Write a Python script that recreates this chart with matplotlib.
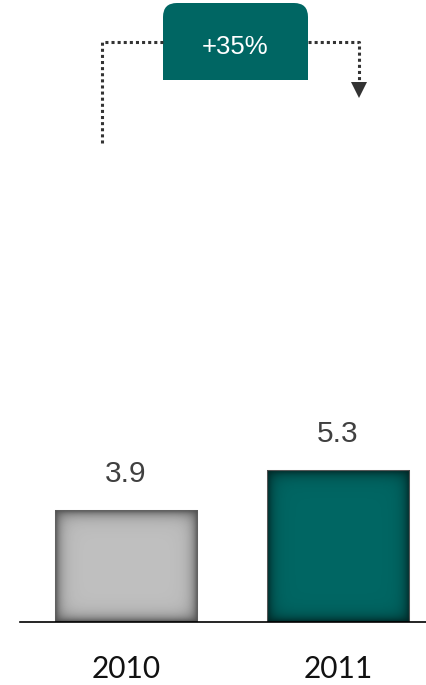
import numpy as np
import matplotlib.pyplot as plt
from matplotlib.patches import FancyBboxPatch, Rectangle, Polygon

years = ['2010', '2011']
values = [3.9, 5.3]
bar_colors = ['#bfbfbf', '#006663']
shadow_strength = [0.6, 0.65]
growth_label = '+35%'
teal = '#006663'

W, H = 427, 685
fig = plt.figure(figsize=(W / 100, H / 100), dpi=100)

# main axes: bottom edge sits on the baseline
ax = fig.add_axes([0, 63 / H, 1, 622 / H])
ax.axis('off')
xlim = (-0.594, 1.42)
ylim = (0, 21.75)
ax.set_xlim(*xlim)
ax.set_ylim(*ylim)

x = np.arange(len(years))
bars = ax.bar(x, values, width=0.67, color=bar_colors, edgecolor='#d8d8d8',
              linewidth=0.8, zorder=2)


def inner_shadow(patch, strength, size=5.5):
    x0, y0 = patch.get_x(), patch.get_y()
    x1, y1 = x0 + patch.get_width(), y0 + patch.get_height()
    (px0, py0), (px1, py1) = ax.transData.transform([(x0, y0), (x1, y1)])
    w, h = int(round(px1 - px0)), int(round(py1 - py0))
    xx = np.arange(w) + 0.5
    yy = np.arange(h) + 0.5
    ax_ = np.exp(-np.minimum(xx, w - xx) / size)
    ay_ = np.exp(-np.minimum(yy, h - yy) / size)
    a = 1 - (1 - ax_[None, :]) * (1 - ay_[:, None])
    img = np.zeros((h, w, 4))
    img[..., 3] = strength * a
    ax.imshow(img, extent=(x0, x1, y0, y1), aspect='auto',
              interpolation='bilinear', zorder=3)


for b, s in zip(bars, shadow_strength):
    inner_shadow(b, s)

for xi, v in zip(x, values):
    ax.annotate(f'{v:.1f}', (xi, v), xytext=(0, 26.5), textcoords='offset points',
                ha='center', va='center', fontsize=21.5, color='#404040',
                family='Liberation Sans')
    ax.annotate(years[xi], (xi, 0), xytext=(0, -34), textcoords='offset points',
                ha='center', va='center', fontsize=21.5, color='#111111',
                family='Lato', annotation_clip=False)

ax.axhline(0, xmin=20 / W, xmax=1, color='black', lw=1.2, zorder=4, clip_on=False)
ax.set_xlim(*xlim)
ax.set_ylim(*ylim)

# growth bracket drawn in pixel space
ov = fig.add_axes([0, 0, 1, 1])
ov.set_xlim(0, W)
ov.set_ylim(H, 0)
ov.axis('off')

dot = dict(color='#333333', lw=2.2, linestyle=(0, (1, 1)), solid_capstyle='butt')
ov.plot([102, 102, 163], [143, 42, 42], **dot)
ov.plot([308, 359, 359], [42, 42, 84], **dot)
ov.add_patch(Polygon([(351, 82), (367, 82), (359, 98)], closed=True,
                     color='#333333', lw=0))

ov.add_patch(FancyBboxPatch((163, 3), 145, 77, boxstyle='round,pad=0,rounding_size=14',
                            color=teal, lw=0))
ov.add_patch(Rectangle((163, 40), 145, 40, color=teal, lw=0))
ov.text(235.5, 47, growth_label, ha='center', va='center', fontsize=18.5,
        color='white', family='Liberation Sans')
ov.set_xlim(0, W)
ov.set_ylim(H, 0)

fig.savefig('out.png', dpi=100)
